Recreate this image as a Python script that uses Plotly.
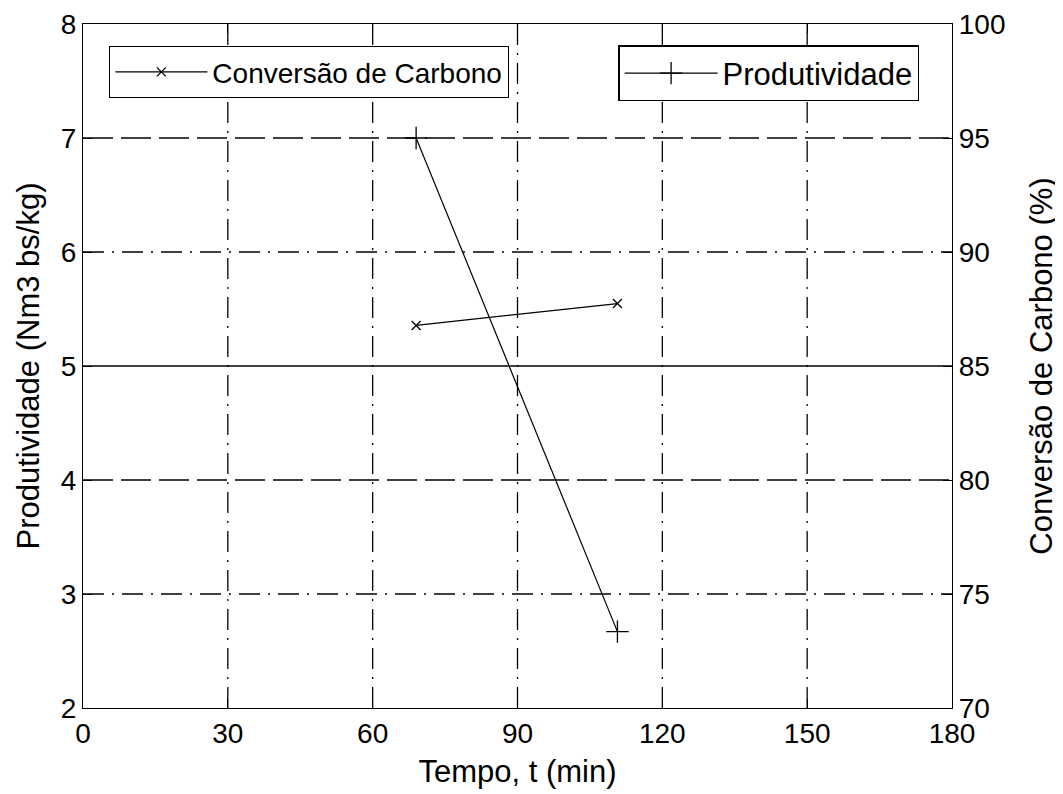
import plotly.graph_objects as go

# Data
tempo = [69.0, 110.7]
produtividade = [7.0, 2.67]          # Nm3 bs/kg (left axis)
conversao = [86.78, 87.74]           # % (right axis)

x_ticks = [0, 30, 60, 90, 120, 150, 180]
y_ticks = [2, 3, 4, 5, 6, 7, 8]
y2_ticks = [70, 75, 80, 85, 90, 95, 100]

FONT = "Liberation Sans, Arial, sans-serif"
FS = 28
FT = 31

fig = go.Figure()

fig.add_trace(go.Scatter(
    x=tempo, y=conversao, yaxis="y2", name="Conversão de Carbono",
    mode="lines+markers", line=dict(color="black", width=1.2),
    marker=dict(symbol="x-thin", size=9, line=dict(color="black", width=1.3)),
    legend="legend", showlegend=True,
))
fig.add_trace(go.Scatter(
    x=tempo, y=produtividade, yaxis="y", name="Produtividade",
    mode="lines+markers", line=dict(color="black", width=1.2),
    marker=dict(symbol="cross-thin", size=16, line=dict(color="black", width=1.3)),
    legend="legend2", showlegend=True,
))

DASHED = "30px,8px"
DASHDOT = "21px,8px,2px,8px"
shapes = []
for xv in x_ticks[1:-1]:
    shapes.append(dict(type="line", xref="x", yref="paper", x0=xv, x1=xv, y0=0, y1=1,
                       line=dict(color="black", width=1.3, dash=DASHDOT), layer="below"))
h_style = {3: DASHDOT, 4: DASHED, 5: "solid", 6: DASHDOT, 7: DASHED}
for yv in y_ticks[1:-1]:
    shapes.append(dict(type="line", xref="paper", yref="y", x0=0, x1=1, y0=yv, y1=yv,
                       line=dict(color="black", width=1.3, dash=h_style[yv]), layer="below"))

axis_common = dict(showgrid=False, zeroline=False, showline=True, linecolor="black",
                   linewidth=1.3, ticks="inside", ticklen=9, tickcolor="black",
                   automargin=False,
                   tickfont=dict(family=FONT, size=FS, color="black"))

# page has an 8px body margin, so the figure is offset by 8px
fig.update_layout(
    width=1063, height=794,
    margin=dict(l=75, r=119, t=16, b=94),
    paper_bgcolor="white", plot_bgcolor="white",
    font=dict(family=FONT, size=FS, color="black"),
    showlegend=True,
    shapes=shapes,
    xaxis=dict(range=[0, 180], tickvals=x_ticks, mirror="ticks",
               title=dict(text="Tempo, t (min)", font=dict(size=FT), standoff=12),
               **axis_common),
    yaxis=dict(range=[2, 8], tickvals=y_ticks, mirror="ticks",
               title=dict(text="Produtividade (Nm3 bs/kg)", font=dict(size=FT), standoff=11),
               **axis_common),
    yaxis2=dict(range=[70, 100], tickvals=y2_ticks, overlaying="y", side="right",
                title=dict(text="Conversão de Carbono (%)", font=dict(size=FT), standoff=25),
                **axis_common),
    legend=dict(x=0.03, y=0.968, xanchor="left", yanchor="top", bgcolor="white",
                bordercolor="black", borderwidth=1.3, itemwidth=92,
                font=dict(family=FONT, size=FS, color="black")),
    legend2=dict(x=0.616, y=0.969, xanchor="left", yanchor="top", bgcolor="white",
                 bordercolor="black", borderwidth=1.3, itemwidth=93,
                 font=dict(family=FONT, size=31, color="black")),
)

fig.write_html("out.html")
